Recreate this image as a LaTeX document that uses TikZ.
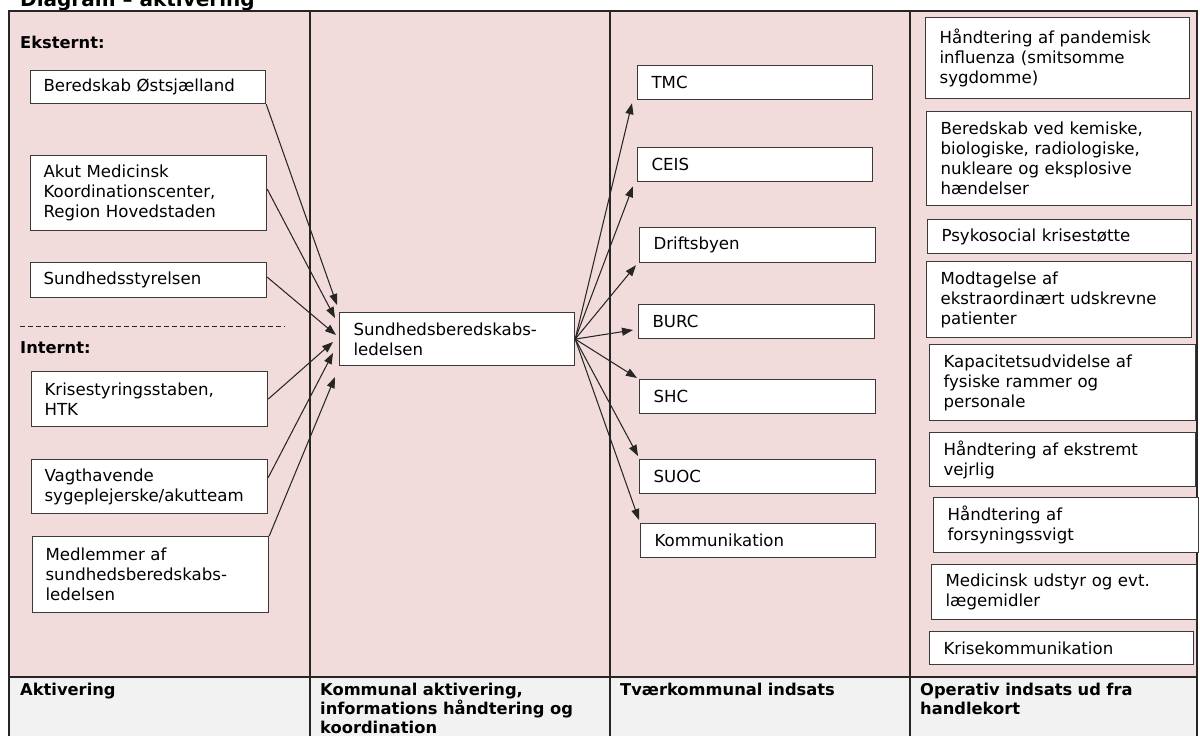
\documentclass[tikz,border=0pt]{standalone}
\usepackage{fontspec}
\setmainfont{DejaVu Sans}
\usetikzlibrary{arrows.meta,calc}
\definecolor{pinkbg}{HTML}{F2DCDB}
\definecolor{greybg}{HTML}{F2F2F2}
\definecolor{linec}{HTML}{262626}
\definecolor{boxline}{HTML}{3A3A3A}
\begin{document}
\begin{tikzpicture}[x=1pt,y=-1pt,
  box/.style={draw=boxline, line width=1.2pt, fill=white, anchor=north west,
    inner xsep=13pt, inner ysep=0pt, align=left,
    font=\fontsize{16.6}{20}\selectfont,
    execute at begin node={\hyphenpenalty=10000\exhyphenpenalty=10000}},
  hdr/.style={anchor=base west, inner sep=0pt, align=left,
    font=\bfseries\fontsize{16.3}{19}\selectfont},
  arr/.style={-{Triangle[length=11pt,width=8pt]}, line width=1.05pt, draw=linec},
  colline/.style={line width=1.2pt, draw=linec}]
\useasboundingbox (0,0) rectangle (1200,736);
\fill[white] (0,0) rectangle (1200,736);
% title (mostly cut off at the top)
\node[anchor=base west, inner sep=0pt, font=\bfseries\fontsize{20}{24}\selectfont] (title) at (20,6) {Diagram – aktivering};
% table
\fill[pinkbg] (9,11) rectangle (1197,677);
\fill[greybg] (9,677) rectangle (1197,740);
\draw[colline] (9,745) -- (9,11) -- (1197,11) -- (1197,745);
\draw[colline] (9,677) -- (1197,677);
\draw[colline] (310,11) -- (310,745);
\draw[colline] (610,11) -- (610,745);
\draw[colline] (910,11) -- (910,745);
% column 1
\node[hdr] (ext) at (20,48) {Eksternt:};
\node[box, minimum width=235pt, text width=209pt, minimum height=33pt] (b1) at (30,70) {Beredskab Østsjælland};
\node[box, minimum width=236pt, text width=210pt, minimum height=75pt] (b2) at (30,155) {Akut Medicinsk\\Koordinationscenter,\\Region Hovedstaden};
\node[box, minimum width=236pt, text width=210pt, minimum height=35pt] (b3) at (30,262) {Sundhedsstyrelsen};
\draw[line width=1pt, draw=linec, dash pattern=on 5pt off 3pt] (20,326) -- (285,326);
\node[hdr] (int) at (20,353) {Internt:};
\node[box, minimum width=236pt, text width=210pt, minimum height=55pt] (b4) at (31,371) {Krisestyringsstaben,\\HTK};
\node[box, minimum width=236pt, text width=210pt, minimum height=54pt] (b5) at (31,459) {Vagthavende\\sygeplejerske/akutteam};
\node[box, minimum width=236pt, text width=210pt, minimum height=76pt] (b6) at (32,536) {Medlemmer af\\sundhedsberedskabs-\\ledelsen};
% column 2
\node[box, inner xsep=14pt, minimum width=235pt, text width=207pt, minimum height=53pt] (sbl) at (339,312) {Sundhedsberedskabs-\\ledelsen};
% column 3
\node[box, inner xsep=14pt, minimum width=235pt, text width=207pt, minimum height=34pt] (tmc) at (637,65) {TMC};
\node[box, inner xsep=14pt, minimum width=235pt, text width=207pt, minimum height=34pt] (ceis) at (637,147) {CEIS};
\node[box, inner xsep=14pt, minimum width=236pt, text width=208pt, minimum height=35pt] (drift) at (639,227) {Driftsbyen};
\node[box, inner xsep=14pt, minimum width=236pt, text width=208pt, minimum height=34pt] (burc) at (638,304) {BURC};
\node[box, inner xsep=14pt, minimum width=236pt, text width=208pt, minimum height=34pt] (shc) at (639,379) {SHC};
\node[box, inner xsep=14pt, minimum width=236pt, text width=208pt, minimum height=34pt] (suoc) at (639,459) {SUOC};
\node[box, inner xsep=14pt, minimum width=235pt, text width=207pt, minimum height=34pt] (komm) at (640,523) {Kommunikation};
% column 4
\node[box, inner xsep=14pt, minimum width=264pt, text width=236pt, minimum height=81pt] (r1) at (925,17) {Håndtering af pandemisk\\influenza (smitsomme\\sygdomme)};
\node[box, inner xsep=14pt, minimum width=265pt, text width=237pt, minimum height=94pt] (r2) at (926,111) {Beredskab ved kemiske,\\biologiske, radiologiske,\\nukleare og eksplosive\\hændelser};
\node[box, inner xsep=14pt, minimum width=264pt, text width=236pt, minimum height=34pt] (r3) at (927,219) {Psykosocial krisestøtte};
\node[box, inner xsep=14pt, minimum width=265pt, text width=237pt, minimum height=76pt] (r4) at (926,261) {Modtagelse af\\ekstraordinært udskrevne\\patienter};
\node[box, inner xsep=14pt, minimum width=266pt, text width=238pt, minimum height=76pt] (r5) at (929,344) {Kapacitetsudvidelse af\\fysiske rammer og\\personale};
\node[box, inner xsep=14pt, minimum width=266pt, text width=238pt, minimum height=54pt] (r6) at (929,432) {Håndtering af ekstremt\\vejrlig};
\node[box, inner xsep=14pt, minimum width=265pt, text width=237pt, minimum height=55pt] (r7) at (933,497) {Håndtering af\\forsyningssvigt};
\node[box, inner xsep=14pt, minimum width=265pt, text width=237pt, minimum height=55pt] (r8) at (931,564) {Medicinsk udstyr og evt.\\lægemidler};
\node[box, inner xsep=14pt, minimum width=264pt, text width=236pt, minimum height=33pt] (r9) at (929,631) {Krisekommunikation};
% bottom headers
\node[hdr, text width=280pt] (h1) at (20,695) {Aktivering};
\node[hdr, text width=280pt] (h2) at (320,695) {Kommunal aktivering,\\informations håndtering og\\koordination};
\node[hdr, text width=280pt] (h3) at (620,695) {Tværkommunal indsats};
\node[hdr, text width=280pt] (h4) at (920,695) {Operativ indsats ud fra\\handlekort};
% arrow end points
\coordinate (e1) at ($(sbl.north west)+(-2,-7)$);
\coordinate (e2) at ($(sbl.north west)+(-4,6)$);
\coordinate (e3) at ($(sbl.north west)+(-3,23)$);
\coordinate (e4) at ($(sbl.north west)+(-6,30)$);
\coordinate (e5) at ($(sbl.north west)+(-6,41)$);
\coordinate (e6) at ($(sbl.north west)+(-4,65)$);
\coordinate (t1) at ($(tmc.south west)+(-5,3)$);
\coordinate (t2) at ($(ceis.south west)+(-4,4)$);
\coordinate (t3) at ($(drift.south west)+(-3,2)$);
\coordinate (t4) at ($(burc.north west)+(-5,26)$);
\coordinate (t5) at ($(shc.north west)+(-2,-1)$);
\coordinate (t6) at ($(suoc.north west)+(-1,-3)$);
\coordinate (t7) at ($(komm.north west)+(-1,-3)$);
% arrows in
\draw[arr] (b1.south east) -- (e1);
\draw[arr] ([yshift=4pt]b2.east) -- (e2);
\draw[arr] ([yshift=3pt]b3.east) -- (e3);
\draw[arr] (b4.east) -- (e4);
\draw[arr] ([yshift=9pt]b5.east) -- (e5);
\draw[arr] (b6.north east) -- (e6);
% arrows out
\draw[arr] (sbl.east) -- (t1);
\draw[arr] (sbl.east) -- (t2);
\draw[arr] (sbl.east) -- (t3);
\draw[arr] (sbl.east) -- (t4);
\draw[arr] (sbl.east) -- (t5);
\draw[arr] (sbl.east) -- (t6);
\draw[arr] (sbl.east) -- (t7);
\end{tikzpicture}
\end{document}
